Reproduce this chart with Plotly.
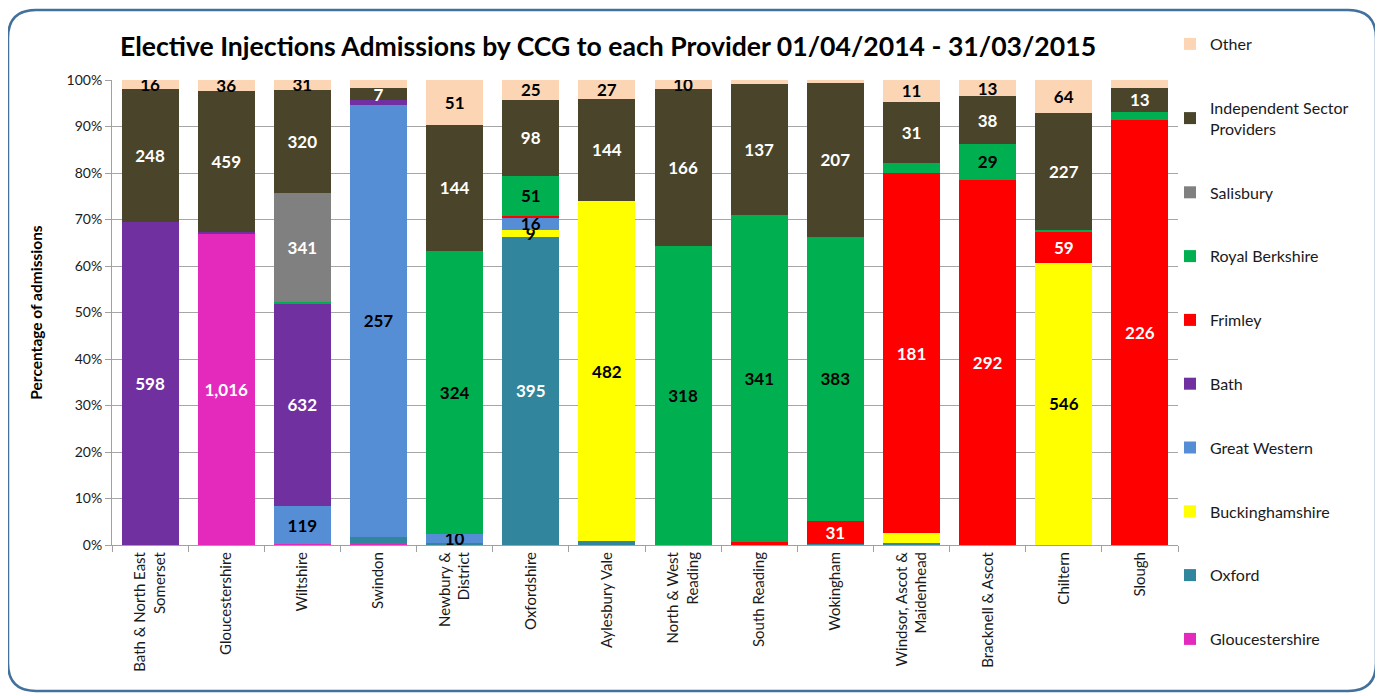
import plotly.graph_objects as go

categories = ["Bath & North East<br>Somerset", "Gloucestershire", "Wiltshire", "Swindon",
              "Newbury &<br>District", "Oxfordshire", "Aylesbury Vale", "North & West<br>Reading",
              "South Reading", "Wokingham", "Windsor, Ascot &<br>Maidenhead", "Bracknell & Ascot",
              "Chiltern", "Slough"]

# admissions counts per provider (stack order bottom -> top)
gloucestershire = [0, 1016, 2, 1, 0, 0, 0, 0, 0, 0, 0, 0, 0, 0]
oxford          = [0, 0, 0, 4, 2, 395, 5, 0, 0, 1, 1, 0, 0, 0]
buckinghamshire = [0, 0, 0, 0, 0, 9, 482, 0, 1, 0, 5, 0, 546, 0]
great_western   = [0, 0, 119, 257, 10, 16, 0, 0, 0, 0, 0, 0, 0, 0]
bath            = [598, 5, 632, 3, 0, 0, 0, 0, 0, 0, 0, 0, 0, 0]
frimley         = [0, 0, 0, 0, 0, 2, 0, 0, 2, 31, 181, 292, 59, 226]
royal_berkshire = [0, 0, 2, 0, 324, 51, 0, 318, 341, 383, 5, 29, 4, 4]
salisbury       = [0, 0, 341, 0, 0, 0, 0, 0, 0, 0, 0, 0, 0, 0]
independent     = [248, 459, 320, 7, 144, 98, 144, 166, 137, 207, 31, 38, 227, 13]
other           = [16, 36, 31, 5, 51, 25, 27, 10, 4, 4, 11, 13, 64, 4]

series = [
    ("Gloucestershire", gloucestershire, "#E42ABD", "white"),
    ("Oxford", oxford, "#31859C", "white"),
    ("Buckinghamshire", buckinghamshire, "#FFFF00", "black"),
    ("Great Western", great_western, "#558ED5", "black"),
    ("Bath", bath, "#7030A0", "white"),
    ("Frimley", frimley, "#FF0000", "white"),
    ("Royal Berkshire", royal_berkshire, "#00B050", "black"),
    ("Salisbury", salisbury, "#808080", "white"),
    ("Independent Sector<br>Providers", independent, "#4A452A", "white"),
    ("Other", other, "#FCD5B5", "black"),
]

FONT = "Lato"
fig = go.Figure()
n = len(series)
for i, (name, vals, col, tcol) in enumerate(series):
    fig.add_trace(go.Bar(
        x=categories, y=vals, name=name, legendgroup=name, legendrank=1000 + (n - i),
        marker=dict(color=col, line=dict(width=0)),
        text=[f"{v:,}" if v >= 7 else "" for v in vals],
        textposition="inside", insidetextanchor="middle", constraintext="none",
        textfont=dict(family=FONT, size=17, color=tcol, weight="bold"),
        textangle=0,
    ))

# page body has an 8px margin: convert screenshot pixels to figure pixels
OFF = 8
W, H = 1383 - OFF, 696 - OFF
L, T = 112 - OFF, 80 - OFF
R = W - (1178 - OFF)
B = H - (545 - OFF)
pw, ph = W - L - R, H - T - B

def xp(px):
    return (px - OFF - L) / pw

def yp(py):
    return (H - B - (py - OFF)) / ph

x0, x1, y0, y1, r = 8, 1376, 10, 691, 28
path = (f"M{xp(x0 + r)},{yp(y0)} L{xp(x1 - r)},{yp(y0)} Q{xp(x1)},{yp(y0)} {xp(x1)},{yp(y0 + r)} "
        f"L{xp(x1)},{yp(y1 - r)} Q{xp(x1)},{yp(y1)} {xp(x1 - r)},{yp(y1)} "
        f"L{xp(x0 + r)},{yp(y1)} Q{xp(x0)},{yp(y1)} {xp(x0)},{yp(y1 - r)} "
        f"L{xp(x0)},{yp(y0 + r)} Q{xp(x0)},{yp(y0)} {xp(x0 + r)},{yp(y0)} Z")

fig.update_layout(
    width=W, height=H,
    barmode="stack", barnorm="percent", bargap=0.25,
    margin=dict(l=L, r=R, t=T, b=B, autoexpand=False),
    paper_bgcolor="white", plot_bgcolor="white",
    font=dict(family=FONT, color="#1a1a1a"),
    title=dict(text="<b>Elective Injections Admissions by CCG to each Provider 01/04/2014 - 31/03/2015</b>",
               x=(608 - OFF) / W, xanchor="center", xref="container",
               y=1 - (47 - OFF) / H, yanchor="middle", yref="container",
               font=dict(family=FONT, size=26.6, color="black")),
    legend=dict(traceorder="grouped", x=xp(1170), xanchor="left", y=yp(27), yanchor="top",
                tracegroupgap=40, maxheight=680, font=dict(family=FONT, size=16, color="#1a1a1a"),
                bgcolor="rgba(0,0,0,0)", itemclick=False),
    showlegend=True,
    shapes=[dict(type="path", xref="paper", yref="paper", path=path,
                 line=dict(color="#41719C", width=2.5), fillcolor="rgba(0,0,0,0)", layer="below")],
    xaxis=dict(showline=True, linecolor="#A0A0A0", linewidth=1, ticks="outside", tickson="boundaries",
               ticklen=6, tickcolor="#A0A0A0", tickangle=-90,
               tickfont=dict(family=FONT, size=15, color="#1a1a1a"), showgrid=False),
    yaxis=dict(range=[0, 100], dtick=10, ticksuffix="%", showline=True, linecolor="#A0A0A0",
               ticks="outside", ticklen=6, tickcolor="#A0A0A0", gridcolor="#A6A6A6", gridwidth=1,
               zeroline=False, tickfont=dict(family=FONT, size=14, color="#1a1a1a"),
               title=dict(text="<b>Percentage of admissions</b>", standoff=20,
                          font=dict(family=FONT, size=15.5, color="black"))),
)

fig.write_html("out.html")
